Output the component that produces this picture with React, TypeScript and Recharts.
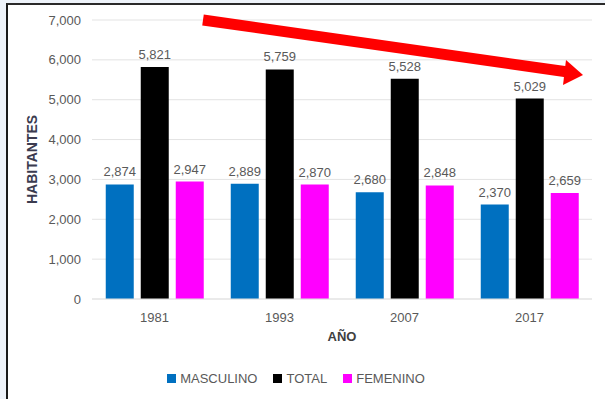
import React from 'react';
import { BarChart, Bar, XAxis, YAxis, CartesianGrid, Legend, LabelList } from 'recharts';

const years = ['1981', '1993', '2007', '2017'];
const masculino = [2874, 2889, 2680, 2370];
const total = [5821, 5759, 5528, 5029];
const femenino = [2947, 2870, 2848, 2659];
const yTicks = [0, 1000, 2000, 3000, 4000, 5000, 6000, 7000];

const data = years.map((year, i) => ({
  year,
  MASCULINO: masculino[i],
  TOTAL: total[i],
  FEMENINO: femenino[i],
}));

const series = [
  { key: 'MASCULINO', color: '#0070C0' },
  { key: 'TOTAL', color: '#000000' },
  { key: 'FEMENINO', color: '#FF00FF' },
];

const fmt = (v: number) => v.toLocaleString('en-US');
const FONT = '"Liberation Sans", Arial, sans-serif';

const CustomLegend = () => (
  <div style={{ display: 'flex', justifyContent: 'center', gap: 16, fontFamily: FONT, fontSize: 13, color: '#595959' }}>
    {series.map((s) => (
      <span key={s.key} style={{ display: 'flex', alignItems: 'center' }}>
        <span style={{ width: 9, height: 9, background: s.color, marginRight: 4, display: 'inline-block' }} />
        {s.key}
      </span>
    ))}
  </div>
);

export default function App() {
  return (
    <div style={{ position: 'absolute', left: 0, top: 0, width: 605, height: 399, background: '#eef3fa', overflow: 'hidden' }}>
      <div style={{ position: 'absolute', left: 6, top: 3, width: 620, height: 420, background: '#fff', borderLeft: '2.5px solid #1a1a1a', borderTop: '2px solid #2a2a2a' }} />
      <div style={{ position: 'absolute', left: 0, top: 0 }}>
        <BarChart
          width={605}
          height={399}
          data={data}
          margin={{ top: 20, right: 13, left: 0, bottom: 40 }}
          barCategoryGap="11%"
          barGap={7}
        >
          <CartesianGrid vertical={false} stroke="#e3e3e3" />
          <XAxis
            dataKey="year"
            axisLine={{ stroke: '#e3e3e3' }}
            tickLine={false}
            tick={{ fontSize: 13, fill: '#595959', fontFamily: FONT }}
            tickMargin={8}
            height={45}
            label={{ value: 'AÑO', position: 'insideBottom', offset: 3, fontSize: 13, fontWeight: 'bold', fill: '#404040', fontFamily: FONT }}
          />
          <YAxis
            domain={[0, 7000]}
            ticks={yTicks}
            tickFormatter={fmt}
            axisLine={false}
            tickLine={false}
            width={92}
            tick={{ fontSize: 13, fill: '#595959', fontFamily: FONT }}
            tickMargin={5}
            label={{ value: 'HABITANTES', angle: -90, position: 'insideLeft', offset: 32, fontSize: 14, fontWeight: 'bold', fill: '#3b3b4f', fontFamily: FONT, style: { textAnchor: 'middle' } }}
          />
          <Legend verticalAlign="bottom" content={<CustomLegend />} wrapperStyle={{ bottom: 13 }} />
          {series.map((s) => (
            <Bar key={s.key} dataKey={s.key} fill={s.color} isAnimationActive={false}>
              <LabelList dataKey={s.key} position="top" offset={8} formatter={(v: any) => fmt(Number(v))} style={{ fontSize: 13, fill: '#595959', fontFamily: FONT }} />
            </Bar>
          ))}
        </BarChart>
      </div>
      <svg width={605} height={399} style={{ position: 'absolute', left: 0, top: 0, pointerEvents: 'none' }}>
        <line x1={203} y1={20} x2={568} y2={72} stroke="#ff0000" strokeWidth={11} />
        <polygon points="583,75 566,60 563,85" fill="#ff0000" />
      </svg>
    </div>
  );
}
